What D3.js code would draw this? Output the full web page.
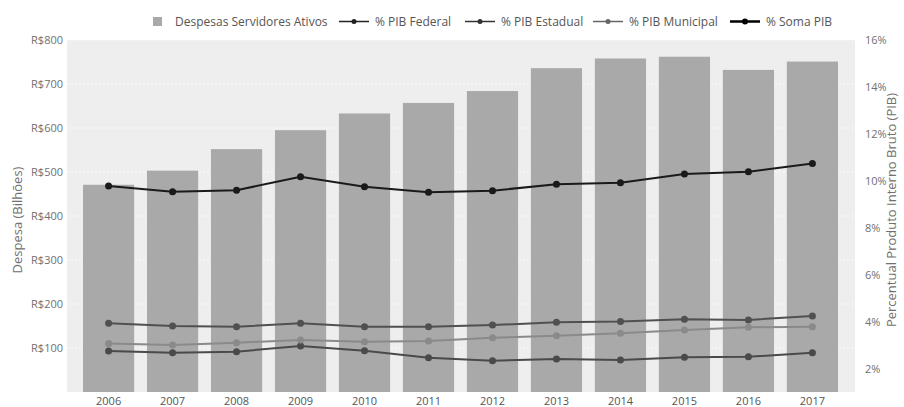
<!DOCTYPE html>
<html><head><meta charset="utf-8">
<script src="https://cdn.jsdelivr.net/npm/d3@7"></script>
<style>body{margin:0;background:#fff}svg{display:block}text{font-family:"Open Sans",sans-serif}</style>
</head><body><svg id="c" width="904" height="407"></svg>
<script>
const years = ["2006","2007","2008","2009","2010","2011","2012","2013","2014","2015","2016","2017"];
const despesas = [471, 503, 552, 595, 633, 657, 684, 736, 758, 762, 732, 751];
const pibFederal = [2.75, 2.67, 2.72, 2.96, 2.76, 2.46, 2.33, 2.41, 2.36, 2.48, 2.50, 2.67];
const pibEstadual = [3.93, 3.81, 3.78, 3.93, 3.78, 3.78, 3.85, 3.97, 4.00, 4.10, 4.07, 4.24];
const pibMunicipal = [3.07, 3.00, 3.10, 3.22, 3.14, 3.17, 3.31, 3.40, 3.50, 3.64, 3.76, 3.78];
const pibSoma = [9.78, 9.53, 9.60, 10.17, 9.75, 9.51, 9.58, 9.85, 9.92, 10.29, 10.39, 10.74];
const leftTicks = [100,200,300,400,500,600,700,800];
const rightTicks = [2,4,6,8,10,12,14,16];

const svg = d3.select("#c");
const L = 67, R = 855, T = 40, B = 392;
const x = d3.scaleBand().domain(years).range([83, 838]).paddingInner(0.2).paddingOuter(0);
const yL = d3.scaleLinear().domain([0, 800]).range([B, T]);
const yR = d3.scaleLinear().domain([1, 16]).range([B, T]);
const txt = "#707070";

svg.append("rect").attr("x", L).attr("y", T).attr("width", R - L).attr("height", B - T).attr("fill", "#eeeeee");

svg.append("g").selectAll("line").data(leftTicks).join("line")
  .attr("x1", L).attr("x2", R).attr("y1", d => yL(d)).attr("y2", d => yL(d))
  .attr("stroke", "#fcfcfc").attr("stroke-width", 1).attr("stroke-dasharray", "2,2");

svg.append("g").selectAll("rect").data(years).join("rect")
  .attr("x", d => x(d)).attr("width", x.bandwidth())
  .attr("y", (d, i) => yL(despesas[i])).attr("height", (d, i) => B - yL(despesas[i]))
  .attr("fill", "#a9a9a9");

// axes
const gl = svg.append("g").attr("transform", `translate(${L},0)`)
  .call(d3.axisLeft(yL).tickValues(leftTicks).tickSize(0).tickPadding(4).tickFormat(d => "R$" + d));
gl.select(".domain").remove();
gl.selectAll("text").attr("fill", txt).style("font-size", "11px");

const gr = svg.append("g").attr("transform", `translate(${R},0)`)
  .call(d3.axisRight(yR).tickValues(rightTicks).tickSize(0).tickPadding(10).tickFormat(d => d + "%"));
gr.select(".domain").remove();
gr.selectAll("text").attr("fill", txt).style("font-size", "11px");

const gb = svg.append("g").attr("transform", `translate(0,${B})`)
  .call(d3.axisBottom(x).tickSize(0).tickPadding(5));
gb.select(".domain").remove();
gb.selectAll("text").attr("fill", "#555").style("font-size", "11px");

svg.append("text").attr("transform", "translate(22,220) rotate(-90)").attr("text-anchor", "middle")
  .attr("fill", txt).style("font-size", "13px").text("Despesa (Bilhões)");
svg.append("text").attr("transform", "translate(896,210) rotate(-90)").attr("text-anchor", "middle")
  .attr("fill", txt).style("font-size", "13px").text("Percentual Produto Interno Bruto (PIB)");

const series = [
  {name: "% PIB Federal", vals: pibFederal, color: "#4a4a4a", w: 2},
  {name: "% PIB Estadual", vals: pibEstadual, color: "#505050", w: 2},
  {name: "% PIB Municipal", vals: pibMunicipal, color: "#8a8a8a", w: 2},
  {name: "% Soma PIB", vals: pibSoma, color: "#1a1a1a", w: 2}
];
const cx = d => x(d) + x.bandwidth() / 2;
const line = d3.line().x((v, i) => cx(years[i])).y(v => yR(v));
series.forEach(s => {
  svg.append("path").datum(s.vals).attr("d", line).attr("fill", "none")
    .attr("stroke", s.color).attr("stroke-width", s.w);
  svg.append("g").selectAll("circle").data(s.vals).join("circle")
    .attr("cx", (v, i) => cx(years[i])).attr("cy", v => yR(v)).attr("r", 3.5).attr("fill", s.color);
});

// legend
const lg = svg.append("g");
lg.append("rect").attr("x", 153).attr("y", 17).attr("width", 9).attr("height", 9).attr("fill", "#a9a9a9");
lg.append("text").attr("x", 175).attr("y", 25.5).attr("fill", "#555").style("font-size", "12px").text("Despesas Servidores Ativos");
const legX = [339, 465, 593, 730];
const legCol = ["#222", "#333", "#666", "#000"];
series.forEach((s, i) => {
  lg.append("line").attr("x1", legX[i]).attr("x2", legX[i] + 30).attr("y1", 21.5).attr("y2", 21.5)
    .attr("stroke", legCol[i]).attr("stroke-width", i === 3 ? 2.5 : 1.5);
  lg.append("circle").attr("cx", legX[i] + 15).attr("cy", 21.5).attr("r", i === 3 ? 3 : 2.5).attr("fill", legCol[i]);
  lg.append("text").attr("x", legX[i] + 36).attr("y", 25.5).attr("fill", "#555").style("font-size", "12px").text(s.name);
});
</script></body></html>
